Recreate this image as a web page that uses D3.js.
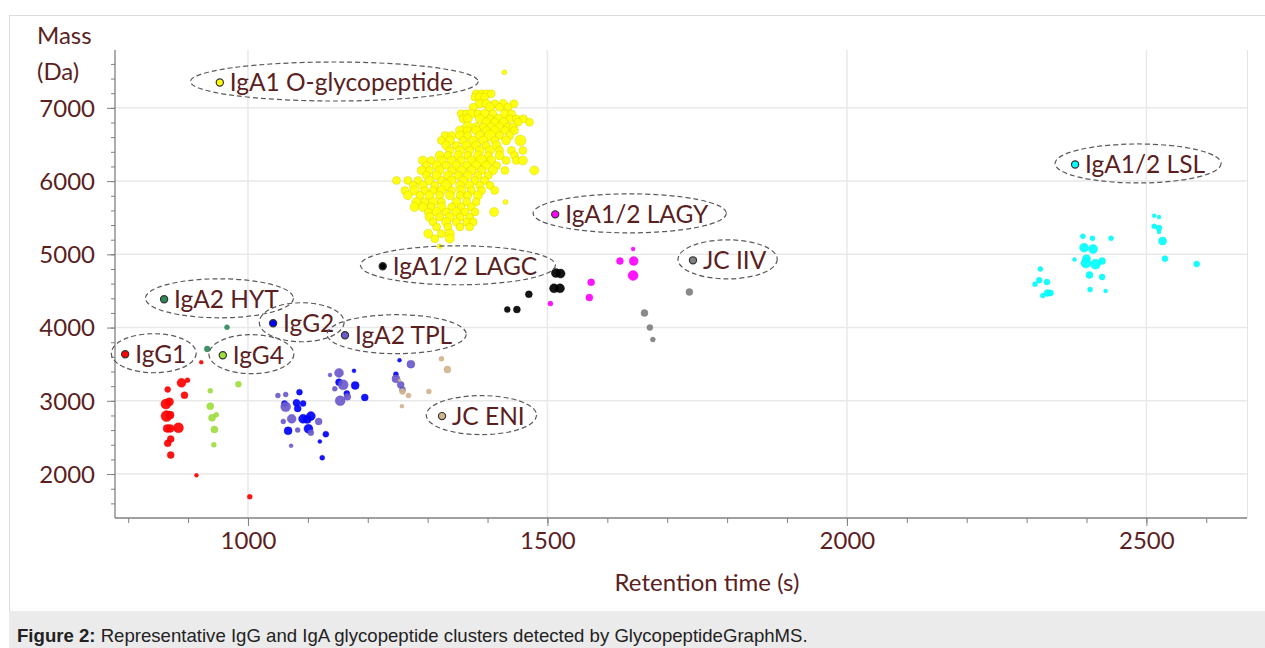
<!DOCTYPE html>
<meta charset="utf-8">
<html>
<head>
<script src="https://d3js.org/d3.v7.min.js"></script>
<style>
  body { margin: 0; background: #fff; }
</style>
</head>
<body>
<svg id="chart" width="1265" height="648"></svg>
</body>
</html>
<script>

// tick labels
var xTicks = [1000, 1500, 2000, 2500];
var yTicks = [2000, 3000, 4000, 5000, 6000, 7000];

// clusters: [retention time (s), mass (Da), abundance 1-10]
var igg1 = [[866,3155,4],[889,3245,7],[899,3282,3],[894,3077,5],[863,2955,8],[869,2986,6],
  [864,2791,9],[870,2805,6],[865,2623,6],[884,2631,8],[870,2623,6],[871,2477,5],[866,2419,5],
  [871,2259,5],[922,3527,2],[914,1982,2],[1003,1690,3]];
var igg4 = [[937,3136,3],[984,3227,4],[937,2927,5],[940,2768,5],[947,2809,3],[944,2610,5],[943,2400,3]];
var iga2Hyt = [[932,3709,4],[965,4005,3]];
var igg2 = [[1086,3118,4],[1061,2964,4],[1081,2972,5],[1092,2964,4],[1083,2896,5],[1092,2754,7],
  [1105,2791,7],[1099,2746,6],[1067,2590,6],[1101,2618,7],[1130,2545,4],[1120,2446,2],[1124,2223,3],
  [1177,3409,2],[1152,3255,5],[1179,3210,6],[1165,3100,4],[1195,3046,5],[1253,3555,2],[1247,3364,3]];
var iga2Tpl = [[1050,3073,3],[1063,3087,3],[1063,2918,8],[1059,2719,3],[1073,2754,7],[1118,2719,5],
  [1083,2600,3],[1105,2563,4],[1072,2386,2],[1137,3354,2],[1152,3381,7],[1159,3218,8],[1145,3164,3],
  [1154,3000,8],[1166,3054,5],[1272,3500,6],[1247,3300,6],[1255,3218,5],[1258,3155,4]];
var jcEni = [[1253,3282,1],[1323,3573,3],[1333,3428,5],[1258,3128,4],[1268,3073,3],[1302,3128,3],[1257,2927,2]];
var lagc = [[1433,4246,4],[1449,4246,5],[1469,4455,5],[1511,4536,7],[1521,4536,7],[1514,4745,7],[1522,4737,7]];
var lagy = [[1505,4328,3],[1573,4618,5],[1570,4410,5],[1621,4909,5],[1644,4909,7],[1643,4710,8],[1643,5073,2]];
var jcIiv = [[1737,4486,5],[1662,4200,5],[1671,4000,4],[1676,3837,3]];
var lsl = [[2323,4800,3],[2321,4646,4],[2314,4591,3],[2334,4623,4],[2335,4473,5],[2327,4437,3],[2340,4473,4],
  [2394,5246,3],[2410,5218,3],[2441,5218,3],[2396,5091,7],[2411,5073,7],[2380,4928,2],[2400,4941,6],
  [2399,4882,8],[2415,4864,8],[2426,4909,5],[2405,4718,5],[2426,4691,4],[2406,4519,3],[2432,4500,2],
  [2513,5528,2],[2521,5509,2],[2513,5382,3],[2521,5359,4],[2521,5305,2],[2527,5182,6],[2531,4941,4],[2584,4868,4]];
var oGlyco = [
  [1381,7191,6],[1390,7191,6],[1398,7191,6],[1406,7191,6],
  [1379,7146,6],[1387,7146,7],[1395,7146,6],
  [1387,7055,7],[1398,7055,7],[1412,7055,6],[1426,7055,7],[1444,7055,6],
  [1376,7010,6],[1404,7010,7],[1420,7010,6],[1434,7010,6],
  [1356,6919,6],[1365,6919,6],[1373,6919,7],[1384,6919,6],[1395,6919,7],[1409,6919,6],[1429,6919,7],[1440,6919,6],
  [1359,6850,6],[1367,6850,7],[1387,6850,7],[1404,6850,6],[1418,6850,7],[1437,6850,6],[1448,6850,6],[1460,6850,6],
  [1398,6805,7],[1412,6805,6],[1427,6805,7],[1451,6805,6],[1470,6805,6],
  [1367,6737,9],[1381,6737,7],[1393,6737,6],[1406,6737,7],[1420,6737,7],[1434,6737,6],[1443,6737,6],
  [1354,6691,7],[1366,6691,6],[1381,6691,7],[1398,6691,6],[1412,6691,7],[1429,6691,6],[1445,6691,6],
  [1329,6623,6],[1340,6623,6],[1354,6623,7],[1367,6623,6],[1387,6623,7],[1404,6623,9],[1420,6623,6],[1437,6623,6],
  [1323,6555,6],[1337,6555,7],[1359,6555,6],[1376,6555,7],[1393,6555,7],[1412,6555,6],[1431,6555,7],[1455,6555,9],
  [1331,6487,7],[1348,6487,6],[1365,6487,7],[1381,6487,7],[1398,6487,6],[1415,6487,7],
  [1337,6419,6],[1354,6419,7],[1370,6419,6],[1387,6419,7],[1404,6419,7],[1420,6419,6],[1440,6419,6],[1459,6419,6],
  [1320,6350,7],[1334,6350,6],[1351,6350,7],[1367,6350,6],[1384,6350,7],[1401,6350,6],[1420,6350,7],[1445,6350,6],
  [1292,6282,7],[1306,6282,6],[1323,6282,7],[1340,6282,7],[1356,6282,6],[1373,6282,7],[1390,6282,9],[1406,6282,7],
  [1431,6282,6],[1448,6282,6],[1459,6282,7],
  [1298,6214,6],[1315,6214,7],[1331,6214,6],[1348,6214,7],[1365,6214,6],[1381,6214,7],[1398,6214,7],[1415,6214,6],
  [1290,6146,7],[1303,6146,6],[1320,6146,7],[1340,6146,6],[1356,6146,7],[1373,6146,7],[1390,6146,6],[1409,6146,7],
  [1429,6146,6],[1478,6146,7],
  [1298,6078,6],[1315,6078,7],[1334,6078,7],[1351,6078,6],[1367,6078,7],[1384,6078,6],[1401,6078,6],
  [1248,6009,6],[1267,6009,6],[1284,6009,6],[1303,6009,7],[1323,6009,6],[1340,6009,7],[1359,6009,7],[1379,6009,6],[1395,6009,6],
  [1276,5941,6],[1292,5941,7],[1312,5941,6],[1331,5941,9],[1354,5941,7],[1370,5941,7],[1387,5941,6],[1404,5941,6],
  [1262,5873,6],[1278,5873,7],[1295,5873,6],[1309,5873,6],[1323,5873,7],[1340,5873,6],[1356,5873,7],[1373,5873,6],
  [1390,5873,6],[1412,5873,6],
  [1267,5805,7],[1287,5805,6],[1303,5805,7],[1320,5805,6],[1337,5805,7],[1354,5805,6],[1367,5805,6],[1384,5805,7],
  [1281,5714,7],[1295,5714,6],[1309,5714,7],[1323,5714,6],[1348,5714,7],[1365,5714,6],[1381,5714,6],[1430,5714,3],
  [1278,5646,7],[1292,5646,7],[1306,5646,6],[1323,5646,7],[1340,5646,6],[1356,5646,6],[1373,5646,6],
  [1301,5578,6],[1315,5578,7],[1331,5578,6],[1348,5578,7],[1362,5578,6],[1379,5578,6],[1411,5578,7],
  [1303,5509,7],[1320,5509,6],[1337,5509,7],[1354,5509,6],[1370,5509,6],
  [1309,5441,6],[1331,5441,7],[1348,5441,6],[1365,5441,6],[1376,5441,6],
  [1315,5373,6],[1334,5373,6],[1354,5373,6],[1370,5373,6],
  [1301,5282,7],[1323,5282,6],[1337,5282,7],
  [1312,5214,6],[1337,5214,7],
  [1320,5109,3],[1428,7486,3]];

// series names, colours, and the point each label's marker sits at
var seriesNames = ["IgA1 O-glycopeptide", "IgA1/2 LSL", "IgA1/2 LAGY", "JC IIV", "IgA1/2 LAGC",
  "IgA2 HYT", "IgG2", "IgA2 TPL", "IgG1", "IgG4", "JC ENI"];
var seriesData = [oGlyco, lsl, lagy, jcIiv, lagc, iga2Hyt, igg2, iga2Tpl, igg1, igg4, jcEni];
var seriesColors = ["#ffff00", "#00ffff", "#ff00ff", "#808080", "#000000",
  "#2e8b57", "#0000ff", "#6a5acd", "#ff0000", "#9ee03a", "#d2b48c"];
var labelAnchors = [[953,7346], [2381,6227], [1513,5546], [1743,4918], [1225,4837],
  [860,4386], [1042,4059], [1162,3896], [795,3636], [958,3623], [1324,2791]];

var svg = d3.select("#chart");
var textColor = "#5b1f1f";
var font = "Lato, 'Open Sans', sans-serif";

// frame + caption band
svg.append("rect").attr("x", 9.5).attr("y", 15.5).attr("width", 1265).attr("height", 600)
  .attr("fill", "none").attr("stroke", "#dcdcdc");
svg.append("rect").attr("x", 9).attr("y", 611).attr("width", 1256).attr("height", 37).attr("fill", "#ebebeb");
var cap = svg.append("text").attr("x", 17).attr("y", 642)
  .style("font-family", "'Liberation Sans', Arial, sans-serif").style("font-size", "18.6px").attr("fill", "#222");
cap.append("tspan").style("font-weight", "bold").text("Figure 2:");
cap.append("tspan").text(" Representative IgG and IgA glycopeptide clusters detected by GlycopeptideGraphMS.");

// scales
var x = d3.scaleLinear().domain([778, 2668]).range([115, 1247]);
var y = d3.scaleLinear().domain([1400, 7790]).range([518, 50]);
var r = d3.scaleLinear().domain([1, 10]).range([1.5, 6]);

// grid
svg.append("g").selectAll("line").data(yTicks).enter().append("line")
  .attr("x1", 115).attr("x2", 1247).attr("y1", d => y(d)).attr("y2", d => y(d))
  .attr("stroke", "#e9e9e9").attr("stroke-width", 1.5);
svg.append("g").selectAll("line").data(xTicks).enter().append("line")
  .attr("y1", 50).attr("y2", 518).attr("x1", d => x(d)).attr("x2", d => x(d))
  .attr("stroke", "#e9e9e9").attr("stroke-width", 1.5);
svg.append("line").attr("x1", 1247.5).attr("x2", 1247.5).attr("y1", 50).attr("y2", 518)
  .attr("stroke", "#e4e4e4").attr("stroke-width", 1);

// axes
var xMinor = svg.append("g").attr("transform", "translate(0,518)")
  .call(d3.axisBottom(x).tickValues(d3.range(800, 2700, 100)).tickSize(5).tickFormat(""));
var xMajor = svg.append("g").attr("transform", "translate(0,518)")
  .call(d3.axisBottom(x).tickValues(xTicks).tickSize(8).tickPadding(10).tickFormat(d3.format("d")));
var yMinor = svg.append("g").attr("transform", "translate(115,0)")
  .call(d3.axisLeft(y).tickValues(d3.range(1600, 7800, 200)).tickSize(4).tickFormat(""));
var yMajor = svg.append("g").attr("transform", "translate(115,0)")
  .call(d3.axisLeft(y).tickValues(yTicks).tickSize(8).tickPadding(12).tickFormat(d3.format("d")));

[xMinor, xMajor, yMinor, yMajor].forEach(function(g) {
  g.select(".domain").remove();
  g.selectAll("line").attr("stroke", "#808080");
  g.selectAll("text").attr("fill", textColor).style("font-family", font).style("font-size", "24px");
});
xMajor.selectAll("text").attr("dy", "0.55em");
yMajor.selectAll("text").attr("dy", "0.35em");
// plain axis lines (no end caps)
svg.append("line").attr("x1", 115).attr("x2", 1247).attr("y1", 518).attr("y2", 518).attr("stroke", "#808080").attr("stroke-width", 1.3);
svg.append("line").attr("x1", 115).attr("x2", 115).attr("y1", 50).attr("y2", 518).attr("stroke", "#808080").attr("stroke-width", 1.3);

// axis titles
svg.append("text").attr("x", 37).attr("y", 44).text("Mass")
  .attr("fill", textColor).style("font-family", font).style("font-size", "24px");
svg.append("text").attr("x", 37).attr("y", 80).text("(Da)")
  .attr("fill", textColor).style("font-family", font).style("font-size", "24px");
svg.append("text").attr("x", 707).attr("y", 591).attr("text-anchor", "middle").text("Retention time (s)")
  .attr("fill", textColor).style("font-family", font).style("font-size", "24px");

// points
var pts = svg.append("g");
seriesData.forEach(function(data, i) {
  var c = seriesColors[i];
  pts.append("g").selectAll("circle").data(data).enter().append("circle")
    .attr("cx", d => x(d[0])).attr("cy", d => y(d[1])).attr("r", d => r(d[2]))
    .attr("fill", c).attr("fill-opacity", 0.92)
    .attr("stroke", i === 0 ? "#c9c000" : d3.color(c).darker(0.3))
    .attr("stroke-opacity", 0.6).attr("stroke-width", 0.6);
});

// labels with dashed ellipses
var labels = svg.append("g");
seriesNames.forEach(function(name, i) {
  var ax = x(labelAnchors[i][0]), ay = y(labelAnchors[i][1]);
  var g = labels.append("g");
  var t = g.append("text").attr("x", ax + 10).attr("y", ay).attr("dy", "0.36em").text(name)
    .attr("fill", textColor).style("font-family", font).style("font-size", "24.5px");
  var w = t.node().getComputedTextLength();
  var left = ax - 4, right = ax + 10 + w;
  var cx = (left + right) / 2, rx = (right - left) / 2 * 1.18 + 4;
  g.insert("ellipse", "text").attr("cx", cx).attr("cy", ay - 1).attr("rx", rx).attr("ry", 19.5)
    .attr("fill", "none").attr("stroke", "#5a5a5a").attr("stroke-width", 1.2).attr("stroke-dasharray", "5,3");
  g.append("circle").attr("cx", ax).attr("cy", ay).attr("r", 3.6)
    .attr("fill", seriesColors[i]).attr("stroke", "#333").attr("stroke-width", 1.2);
});

</script>
